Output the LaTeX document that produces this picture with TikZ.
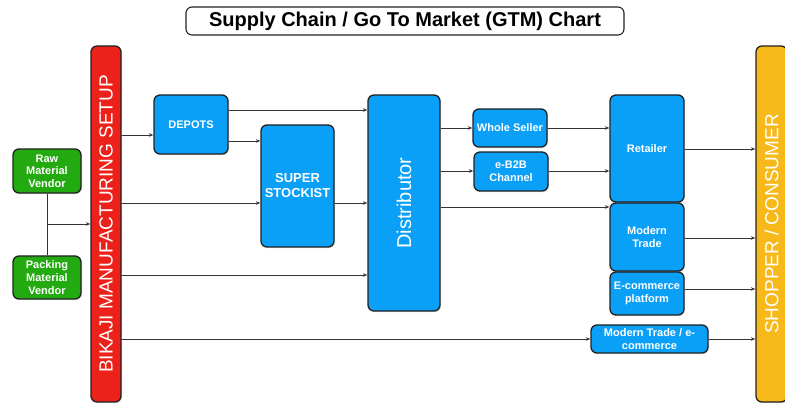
\documentclass[tikz,border=0pt]{standalone}
\usepackage{fontspec}
\setmainfont{Liberation Sans}
\usetikzlibrary{arrows.meta,shadows}
\definecolor{cblue}{HTML}{0AA0F7}
\definecolor{cgreen}{HTML}{22AA10}
\definecolor{cred}{HTML}{EC2119}
\definecolor{cyel}{HTML}{F7B91A}
\definecolor{cedge}{HTML}{222222}
\definecolor{cline}{HTML}{333333}
\tikzset{
  box/.style={draw=cedge, line width=1.3pt, rounded corners=6pt, fill=cblue, text=white,
    font=\bfseries\fontsize{11}{12.7}\selectfont, align=center, inner sep=0pt,
    drop shadow={opacity=0.25, shadow xshift=1pt, shadow yshift=-1.2pt}},
  gbox/.style={box, fill=cgreen},
  bar/.style={box, font=\fontsize{19}{22}\selectfont},
  conn/.style={draw=cline, line width=0.8pt, -{Stealth[length=4.5pt,width=3.5pt]}},
  plain/.style={draw=cline, line width=0.8pt},
  titlebox/.style={draw=cedge, line width=1.1pt, rounded corners=6pt, fill=white,
    font=\bfseries\fontsize{20}{24}\selectfont, inner sep=0pt}
}
\begin{document}
\begin{tikzpicture}[x=1pt,y=-1pt]
\useasboundingbox (0,0) rectangle (785,403);
\node[titlebox, minimum width=438pt, minimum height=28pt] (title) at (405,21) {Supply Chain / Go To Market (GTM) Chart};
\node[bar, fill=cred, minimum width=30pt, minimum height=356pt] (mfg) at (106,224) {\rotatebox{90}{BIKAJI MANUFACTURING SETUP}};
\node[bar, fill=cyel, minimum width=31pt, minimum height=356pt] (cons) at (771.5,224) {\rotatebox{90}{SHOPPER / CONSUMER}};
\node[gbox, minimum width=68pt, minimum height=44pt] (raw) at (47,171) {Raw\\Material\\Vendor};
\node[gbox, minimum width=68pt, minimum height=43pt] (pack) at (47,277.5) {Packing\\Material\\Vendor};
\node[box, minimum width=74pt, minimum height=59pt] (depots) at (191,124.5) {DEPOTS};
\node[box, minimum width=73pt, minimum height=122pt, font=\bfseries\fontsize{13}{15}\selectfont] (super) at (297.5,186) {SUPER\\STOCKIST};
\node[box, minimum width=72pt, minimum height=216pt, font=\fontsize{20}{24}\selectfont] (dist) at (404,203) {\rotatebox{90}{Distributor}};
\node[box, minimum width=74pt, minimum height=38pt] (whole) at (510,128) {Whole Seller};
\node[box, minimum width=74pt, minimum height=39pt] (eb2b) at (511,171.5) {e-B2B\\Channel};
\node[box, minimum width=74pt, minimum height=107pt] (ret) at (647,148.5) {Retailer};
\node[box, minimum width=74pt, minimum height=68pt] (mt) at (647,237) {Modern\\Trade};
\node[box, minimum width=74pt, minimum height=43pt] (ecom) at (647,293.5) {E-commerce\\platform};
\node[box, minimum width=117pt, minimum height=28pt] (mte) at (649.5,339) {Modern Trade / e-\\commerce};
% vendors
\draw[plain] (raw.south) -- (pack.north);
\draw[conn] (raw.south |- 0,224) -- (mfg.west |- 0,224);
% from manufacturing
\draw[conn] (mfg.east |- 0,135) -- (depots.west |- 0,135);
\draw[conn] (mfg.east |- 0,203) -- (super.west |- 0,203);
\draw[conn] (mfg.east |- 0,275) -- (dist.west |- 0,275);
\draw[conn] (mfg.east |- 0,339) -- (mte.west);
% depots
\draw[conn] (depots.east |- 0,110) -- (dist.west |- 0,110);
\draw[conn] (depots.east |- 0,141) -- (super.west |- 0,141);
% super
\draw[conn] (super.east |- 0,203) -- (dist.west |- 0,203);
% distributor
\draw[conn] (dist.east |- 0,128) -- (whole.west);
\draw[conn] (dist.east |- 0,171) -- (eb2b.west |- 0,171);
\draw[conn] (dist.east |- 0,207) -- (mt.west |- 0,207);
% to retailer
\draw[conn] (whole.east) -- (ret.west |- 0,128);
\draw[conn] (eb2b.east |- 0,171) -- (ret.west |- 0,171);
% to consumer
\draw[conn] (ret.east |- 0,149) -- (cons.west |- 0,149);
\draw[conn] (mt.east |- 0,238) -- (cons.west |- 0,238);
\draw[conn] (ecom.east |- 0,289) -- (cons.west |- 0,289);
\draw[conn] (mte.east) -- (cons.west |- 0,339);
\end{tikzpicture}
\end{document}
